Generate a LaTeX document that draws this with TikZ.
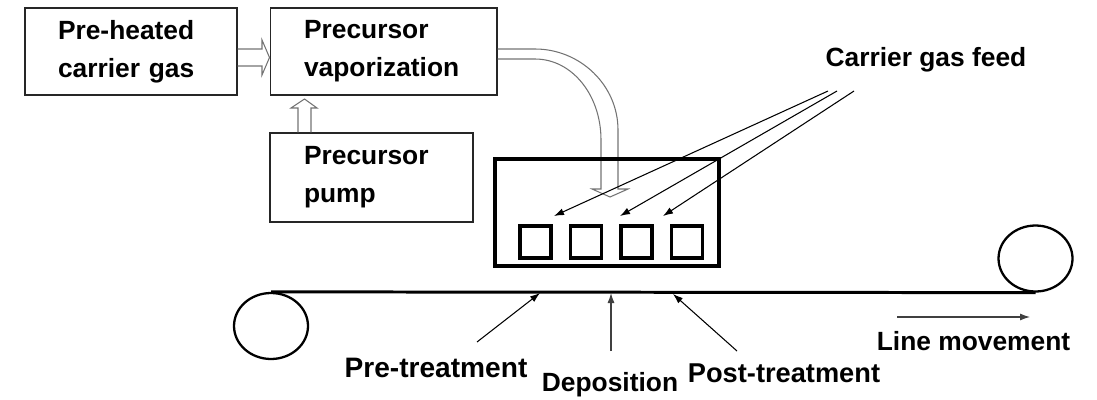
\documentclass[tikz,border=0pt]{standalone}
\usepackage{fontspec}
\setmainfont{Liberation Sans}
\usetikzlibrary{arrows.meta,shapes.geometric}

\tikzset{
  blk/.style={draw=black!85, line width=.6pt, align=left, inner sep=0pt,
    font=\fontsize{15}{21.6}\selectfont\bfseries},
  lbl/.style={inner sep=0pt, font=\fontsize{15}{18}\selectfont\bfseries},
  tube/.style={draw=black!55, line width=.6pt},
  nozzle/.style={draw, line width=2.2pt, minimum width=.62cm, minimum height=.64cm, inner sep=0pt},
  roll/.style={ellipse, draw, line width=1.3pt, minimum width=1.48cm, minimum height=1.32cm, inner sep=0pt},
  ptr/.style={-{Latex[length=2mm,width=1.4mm]}, line width=.6pt},
}

\begin{document}
\begin{tikzpicture}[x=0.02cm,y=-0.02cm]
    \useasboundingbox (0,0) rectangle (1097,399);

    \node (heat) at (131,51.5) [blk,minimum width=4.24cm,minimum height=1.74cm,text width=2.92cm] {Pre-heated\\carrier gas};
    \node (vap) at (383.5,51.5) [blk,minimum width=4.54cm,minimum height=1.74cm,text width=3.18cm] {Precursor\\vaporization};
    \node (pump) at (371.5,177.5) [blk,minimum width=4.06cm,minimum height=1.78cm,text width=2.7cm] {Precursor\\pump};

    \draw[tube]
    (heat.east |- 0,49) -- (262,49) -- (262,40) -- (vap.west |- 0,57.5)
    -- (262,75) -- (262,66) -- (heat.east |- 0,66);

    \draw[tube]
    (298,0 |- pump.north) -- (298,108) -- (291,108) -- (304.5,99)
    -- (317,108) -- (311,108) -- (311,0 |- pump.north);

    \draw[tube]
    (vap.east |- 0,49) -- (535,49) .. controls (580,49) and (618,85) .. (618,130)
    -- (618,189) -- (628,189) -- (610,197) -- (592,189) -- (601,189) -- (601,140)
    .. controls (601,95) and (572,59) .. (535,59) -- (vap.east |- 0,59);

    \node (dep) at (607,212.5) [draw,line width=2.3pt,minimum width=4.48cm,minimum height=2.14cm] {};
    \foreach \i/\x in {1/535.5,2/586,3/636.5,4/687}
      \node (noz\i) at (\x,242) [nozzle] {};

    \node (feed) at (926,66) [lbl,anchor=base] {Carrier gas feed};
    \coordinate (f1) at (828,91);
    \coordinate (f2) at (837,91);
    \coordinate (f3) at (854,91);
    \coordinate (g1) at (554,216);
    \coordinate (g2) at (620,216);
    \coordinate (g3) at (663,216);
    \draw[ptr] (f1) -- (g1);
    \draw[ptr] (f2) -- (g2);
    \draw[ptr] (f3) -- (g3);

    \node (rollL) at (271,326) [roll] {};
    \node (rollR) at (1035.5,258.5) [roll] {};
    \draw[line width=1.7pt] (rollL.north) -- (rollR.south);

    \node (pre) at (436,377) [lbl,anchor=base,font=\fontsize{16}{19}\selectfont\bfseries] {Pre-treatment};
    \node (depo) at (610,391) [lbl,anchor=base] {Deposition};
    \node (post) at (784,382) [lbl,anchor=base,font=\fontsize{15.5}{18}\selectfont\bfseries] {Post-treatment};
    \node (move) at (973.5,350) [lbl,anchor=base] {Line movement};

    \coordinate (pa) at (477,342);
    \coordinate (pb) at (540,293);
    \coordinate (da) at (611,351);
    \coordinate (db) at (611,293);
    \coordinate (qa) at (737,351);
    \coordinate (qb) at (673,294);
    \draw[ptr] (pa) -- (pb);
    \draw[ptr,black!75] (da) -- (db);
    \draw[ptr] (qa) -- (qb);

    \coordinate (m1) at (897,317);
    \coordinate (m2) at (1030,317);
    \draw[ptr,black!75] (m1) -- (m2);
  \end{tikzpicture}
\end{document}
